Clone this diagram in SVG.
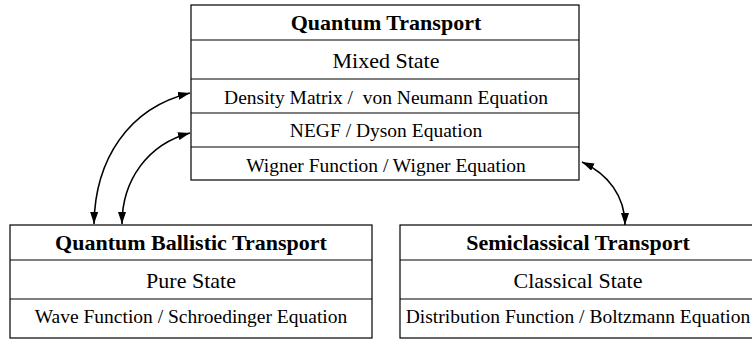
<svg xmlns="http://www.w3.org/2000/svg" width="752" height="340" viewBox="0 0 752 340">
<style>
.box{fill:#fff;stroke:#000;stroke-width:1.2}
.div{stroke:#000;stroke-width:1.2}
text{fill:#000;text-anchor:middle}
.t{font-size:22px;font-weight:bold}
.s{font-size:22px}
.e{font-size:19.5px}
.c{fill:none;stroke:#000;stroke-width:1.6}
</style>
<defs>
<marker id="ah" viewBox="0 0 12 8" refX="12" refY="4" markerWidth="12" markerHeight="8" markerUnits="userSpaceOnUse" orient="auto-start-reverse">
<path d="M0,0 L12,4 L0,8 Z" fill="#000"/>
</marker>
</defs>
<g font-family="'Liberation Serif', 'Times New Roman', Times, 'DejaVu Serif', serif">
<g id="quantum-transport">
<rect class="box" x="191" y="5" width="388" height="175"/>
<line class="div" x1="191" y1="40" x2="579" y2="40"/>
<line class="div" x1="191" y1="79" x2="579" y2="79"/>
<line class="div" x1="191" y1="113" x2="579" y2="113"/>
<line class="div" x1="191" y1="147" x2="579" y2="147"/>
<text class="t" x="386" y="30">Quantum Transport</text>
<text class="s" x="386" y="68">Mixed State</text>
<text class="e" x="386" y="104" xml:space="preserve">Density Matrix /  von Neumann Equation</text>
<text class="e" x="386" y="137">NEGF / Dyson Equation</text>
<text class="e" x="386" y="172">Wigner Function / Wigner Equation</text>
</g>
<g id="quantum-ballistic-transport">
<rect class="box" x="10" y="225" width="362" height="113"/>
<line class="div" x1="10" y1="260" x2="372" y2="260"/>
<line class="div" x1="10" y1="299" x2="372" y2="299"/>
<text class="t" x="191" y="250">Quantum Ballistic Transport</text>
<text class="s" x="191" y="288">Pure State</text>
<text class="e" x="191" y="323">Wave Function / Schroedinger Equation</text>
</g>
<g id="semiclassical-transport">
<rect class="box" x="400" y="225" width="357" height="113"/>
<line class="div" x1="400" y1="260" x2="757" y2="260"/>
<line class="div" x1="400" y1="299" x2="757" y2="299"/>
<text class="t" x="578" y="250">Semiclassical Transport</text>
<text class="s" x="578" y="288">Classical State</text>
<text class="e" x="578" y="323">Distribution Function / Boltzmann Equation</text>
</g>
</g>
<g id="connectors">
<path class="c" d="M94,224 C95,160 128,108 190,93" marker-start="url(#ah)" marker-end="url(#ah)"/>
<path class="c" d="M122,224 C122,180 148,144 190,133" marker-start="url(#ah)" marker-end="url(#ah)"/>
<path class="c" d="M582,162 C608,174 625,196 625,225" marker-start="url(#ah)" marker-end="url(#ah)"/>
</g>
</svg>
